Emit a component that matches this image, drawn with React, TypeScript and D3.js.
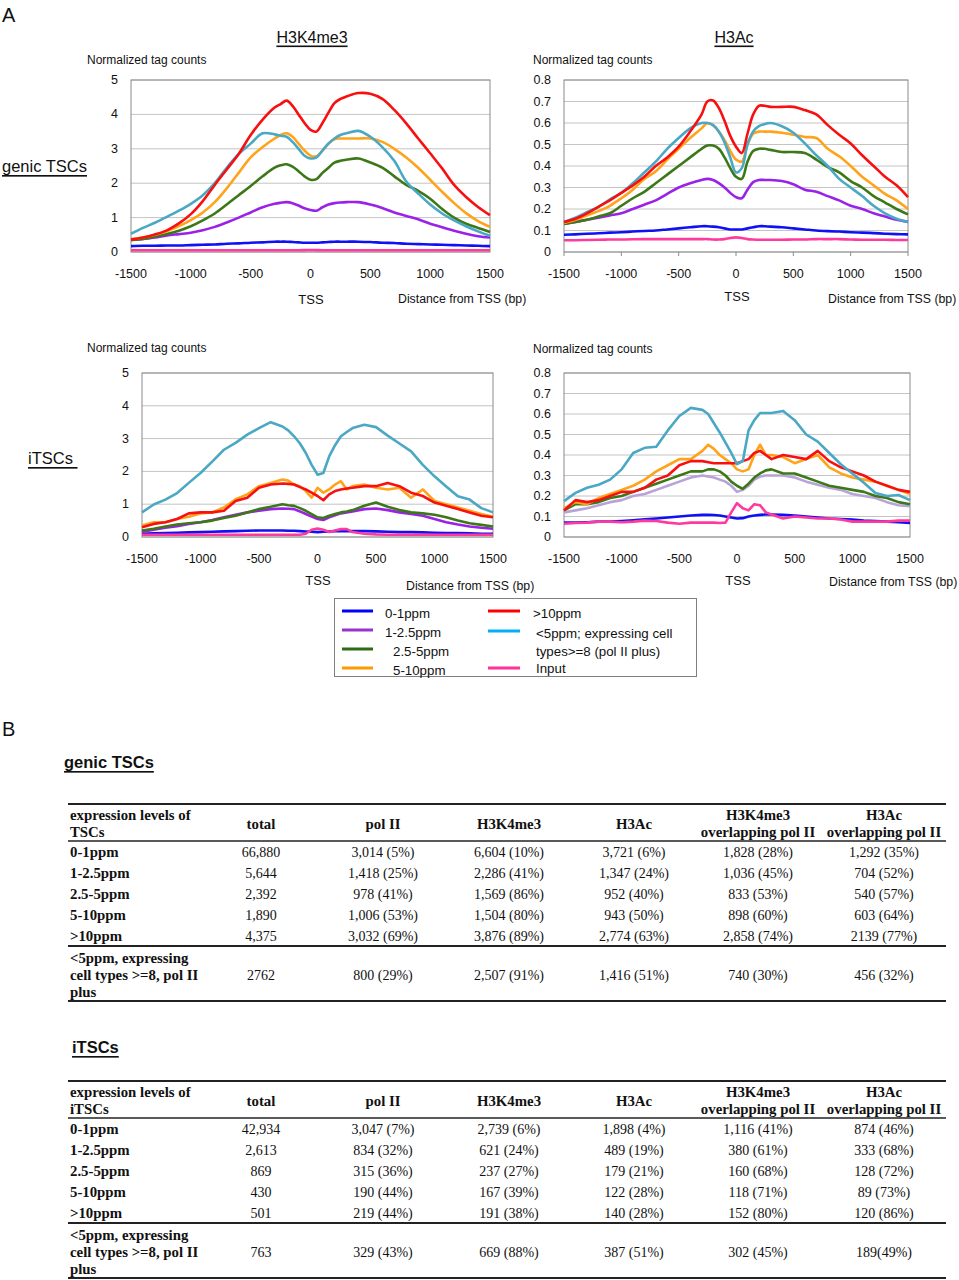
import React from "react";
import * as d3 from "d3";

// ---------- shared axes ----------
const POSITIONS = [-1500,-1400,-1300,-1200,-1100,-1000,-900,-800,-700,-600,-500,-400,-300,-250,-200,-150,-100,-50,0,50,100,150,200,250,300,400,500,600,700,800,900,1000,1100,1200,1300,1400,1500];
const X_TICKS = [-1500,-1000,-500,0,500,1000,1500];
const Y_TICKS_K4 = [0,1,2,3,4,5];
const Y_TICKS_AC = [0,0.1,0.2,0.3,0.4,0.5,0.6,0.7,0.8];

// ---------- genic TSCs, H3K4me3 ----------
const GK4_0_1 = [0.17,0.18,0.18,0.19,0.19,0.2,0.21,0.22,0.24,0.25,0.27,0.28,0.3,0.3,0.3,0.29,0.28,0.27,0.27,0.27,0.28,0.29,0.3,0.3,0.3,0.3,0.29,0.27,0.26,0.24,0.23,0.22,0.21,0.2,0.19,0.18,0.17];
const GK4_1_25 = [0.35,0.38,0.42,0.48,0.52,0.56,0.63,0.73,0.86,1.0,1.15,1.3,1.4,1.43,1.45,1.42,1.35,1.27,1.22,1.2,1.3,1.38,1.42,1.44,1.45,1.45,1.38,1.28,1.15,1.05,0.95,0.82,0.72,0.62,0.53,0.46,0.42];
const GK4_25_5 = [0.35,0.38,0.45,0.52,0.62,0.75,0.92,1.12,1.38,1.65,1.92,2.2,2.45,2.52,2.55,2.48,2.35,2.2,2.1,2.12,2.3,2.45,2.6,2.65,2.68,2.72,2.6,2.45,2.2,1.95,1.78,1.55,1.25,1.0,0.82,0.7,0.58];
const GK4_5_10 = [0.38,0.42,0.5,0.6,0.75,0.93,1.15,1.45,1.85,2.3,2.75,3.05,3.3,3.4,3.45,3.35,3.15,2.95,2.8,2.78,2.95,3.15,3.28,3.3,3.3,3.3,3.3,3.2,3.0,2.75,2.45,2.1,1.75,1.42,1.13,0.9,0.73];
const GK4_GT10 = [0.36,0.42,0.51,0.63,0.83,1.1,1.48,1.95,2.4,2.85,3.4,3.85,4.2,4.3,4.4,4.25,4.0,3.75,3.55,3.5,3.75,4.05,4.33,4.45,4.52,4.62,4.6,4.45,4.13,3.74,3.3,2.87,2.43,1.95,1.6,1.31,1.07];
const GK4_POL2 = [0.53,0.7,0.85,1.02,1.2,1.4,1.65,2.0,2.45,2.85,3.15,3.45,3.42,3.38,3.35,3.2,3.0,2.8,2.72,2.75,2.95,3.15,3.3,3.4,3.45,3.52,3.35,3.05,2.65,2.05,1.7,1.38,1.12,0.92,0.75,0.6,0.47];
const GK4_INPUT = [0.05,0.05,0.05,0.05,0.05,0.05,0.05,0.05,0.05,0.05,0.05,0.05,0.05,0.05,0.05,0.05,0.05,0.055,0.06,0.055,0.05,0.05,0.05,0.05,0.05,0.05,0.05,0.05,0.05,0.05,0.05,0.05,0.05,0.05,0.05,0.05,0.05];

// ---------- genic TSCs, H3Ac ----------
const GAC_0_1 = [0.08,0.082,0.085,0.087,0.09,0.092,0.095,0.098,0.1,0.105,0.11,0.115,0.12,0.12,0.118,0.115,0.11,0.105,0.105,0.105,0.11,0.115,0.12,0.12,0.118,0.115,0.11,0.105,0.1,0.097,0.095,0.092,0.09,0.088,0.085,0.083,0.082];
const GAC_1_25 = [0.13,0.14,0.15,0.16,0.17,0.18,0.2,0.22,0.24,0.27,0.3,0.32,0.335,0.34,0.335,0.32,0.3,0.275,0.255,0.25,0.29,0.325,0.335,0.335,0.335,0.33,0.315,0.29,0.28,0.26,0.24,0.215,0.2,0.18,0.165,0.15,0.14];
const GAC_25_5 = [0.13,0.14,0.15,0.165,0.18,0.215,0.25,0.28,0.32,0.36,0.4,0.44,0.48,0.495,0.495,0.48,0.44,0.39,0.35,0.34,0.42,0.47,0.48,0.48,0.475,0.465,0.465,0.46,0.43,0.395,0.37,0.33,0.3,0.26,0.23,0.2,0.175];
const GAC_5_10 = [0.135,0.15,0.17,0.19,0.215,0.25,0.29,0.34,0.375,0.43,0.48,0.53,0.575,0.6,0.59,0.56,0.52,0.47,0.43,0.42,0.5,0.55,0.56,0.56,0.56,0.555,0.545,0.535,0.53,0.48,0.445,0.4,0.35,0.31,0.27,0.24,0.2];
const GAC_GT10 = [0.14,0.155,0.18,0.21,0.24,0.275,0.31,0.35,0.4,0.44,0.49,0.56,0.64,0.7,0.705,0.67,0.61,0.54,0.49,0.46,0.55,0.64,0.68,0.68,0.675,0.675,0.675,0.66,0.64,0.59,0.545,0.505,0.45,0.4,0.35,0.31,0.255];
const GAC_POL2 = [0.14,0.16,0.185,0.21,0.245,0.275,0.32,0.37,0.42,0.48,0.53,0.575,0.6,0.6,0.59,0.56,0.51,0.44,0.37,0.39,0.5,0.56,0.585,0.595,0.6,0.585,0.555,0.505,0.45,0.4,0.34,0.3,0.26,0.215,0.18,0.155,0.14];
const GAC_INPUT = [0.055,0.055,0.056,0.057,0.058,0.058,0.059,0.06,0.06,0.06,0.06,0.06,0.06,0.06,0.058,0.058,0.06,0.065,0.068,0.065,0.06,0.058,0.057,0.057,0.057,0.057,0.058,0.058,0.06,0.06,0.06,0.058,0.057,0.057,0.057,0.056,0.056];

// ---------- iTSCs, H3K4me3 ----------
const IK4_0_1 = [0.1,0.11,0.12,0.13,0.14,0.15,0.16,0.17,0.18,0.19,0.2,0.2,0.2,0.19,0.19,0.18,0.17,0.16,0.15,0.16,0.17,0.18,0.18,0.18,0.18,0.18,0.17,0.16,0.15,0.15,0.14,0.13,0.12,0.12,0.11,0.1,0.1];
const IK4_1_25 = [0.15,0.22,0.28,0.33,0.4,0.45,0.52,0.6,0.68,0.75,0.8,0.85,0.87,0.86,0.85,0.78,0.7,0.62,0.55,0.52,0.6,0.66,0.72,0.75,0.78,0.85,0.87,0.82,0.75,0.7,0.65,0.55,0.45,0.38,0.32,0.28,0.25];
const IK4_25_5 = [0.2,0.25,0.32,0.38,0.42,0.45,0.5,0.58,0.65,0.75,0.85,0.92,1.0,0.97,0.95,0.88,0.8,0.7,0.6,0.58,0.65,0.7,0.75,0.78,0.82,0.95,1.05,0.92,0.82,0.75,0.72,0.68,0.6,0.5,0.42,0.37,0.32];
const IK4_5_10 = [0.35,0.45,0.45,0.55,0.62,0.72,0.75,0.9,1.15,1.3,1.55,1.65,1.75,1.72,1.6,1.55,1.4,1.2,1.5,1.35,1.45,1.6,1.7,1.45,1.55,1.6,1.5,1.45,1.5,1.2,1.45,1.1,1.0,0.9,0.8,0.7,0.62];
const IK4_GT10 = [0.3,0.4,0.45,0.55,0.72,0.75,0.75,0.8,1.1,1.2,1.5,1.6,1.63,1.62,1.6,1.52,1.45,1.35,1.25,1.12,1.3,1.4,1.45,1.48,1.5,1.55,1.55,1.65,1.55,1.35,1.25,1.05,0.95,0.85,0.75,0.65,0.6];
const IK4_POL2 = [0.75,0.99,1.14,1.34,1.65,1.95,2.3,2.66,2.87,3.12,3.32,3.5,3.37,3.25,3.07,2.85,2.56,2.2,1.9,1.95,2.46,2.8,3.07,3.2,3.32,3.42,3.35,3.09,2.85,2.61,2.2,1.85,1.54,1.24,1.14,0.88,0.75];
const IK4_INPUT = [0.07,0.07,0.07,0.07,0.07,0.07,0.07,0.07,0.07,0.07,0.07,0.07,0.07,0.07,0.07,0.07,0.1,0.22,0.26,0.22,0.15,0.2,0.24,0.24,0.15,0.1,0.08,0.07,0.07,0.07,0.07,0.07,0.07,0.07,0.07,0.07,0.07];

// ---------- iTSCs, H3Ac ----------
const IAC_0_1 = [0.07,0.07,0.072,0.075,0.075,0.078,0.082,0.086,0.09,0.095,0.1,0.105,0.108,0.108,0.107,0.105,0.1,0.095,0.09,0.092,0.1,0.105,0.108,0.11,0.11,0.108,0.105,0.1,0.095,0.09,0.088,0.085,0.08,0.078,0.075,0.072,0.068];
const IAC_1_25 = [0.12,0.13,0.14,0.155,0.17,0.18,0.2,0.21,0.23,0.25,0.27,0.29,0.3,0.295,0.29,0.28,0.27,0.25,0.22,0.23,0.25,0.28,0.295,0.3,0.3,0.3,0.29,0.27,0.255,0.24,0.23,0.21,0.2,0.19,0.17,0.155,0.15];
const IAC_25_5 = [0.13,0.16,0.16,0.17,0.19,0.2,0.22,0.24,0.26,0.28,0.3,0.32,0.32,0.33,0.33,0.32,0.3,0.27,0.25,0.235,0.26,0.29,0.31,0.325,0.33,0.31,0.31,0.29,0.27,0.25,0.24,0.23,0.22,0.2,0.19,0.17,0.16];
const IAC_5_10 = [0.14,0.17,0.16,0.19,0.21,0.23,0.25,0.28,0.32,0.35,0.38,0.38,0.42,0.45,0.43,0.4,0.38,0.36,0.33,0.32,0.33,0.4,0.45,0.4,0.4,0.39,0.36,0.38,0.4,0.34,0.31,0.29,0.28,0.27,0.25,0.23,0.21];
const IAC_GT10 = [0.13,0.18,0.17,0.18,0.2,0.22,0.22,0.24,0.28,0.3,0.35,0.37,0.37,0.365,0.36,0.36,0.36,0.36,0.36,0.37,0.38,0.41,0.42,0.4,0.38,0.4,0.39,0.38,0.42,0.37,0.34,0.32,0.3,0.27,0.25,0.23,0.22];
const IAC_POL2 = [0.175,0.215,0.24,0.255,0.28,0.33,0.41,0.435,0.44,0.52,0.59,0.63,0.62,0.6,0.555,0.51,0.46,0.41,0.355,0.37,0.52,0.57,0.605,0.605,0.605,0.615,0.57,0.5,0.465,0.41,0.355,0.31,0.265,0.215,0.2,0.205,0.18];
const IAC_INPUT = [0.065,0.068,0.07,0.075,0.075,0.072,0.075,0.08,0.078,0.07,0.065,0.07,0.07,0.07,0.07,0.068,0.07,0.12,0.165,0.14,0.13,0.16,0.155,0.12,0.11,0.09,0.1,0.095,0.09,0.09,0.085,0.075,0.075,0.075,0.075,0.08,0.08];

// ---------- legend ----------
const LEGEND_LEFT = ["0-1ppm", "1-2.5ppm", "2.5-5ppm", "5-10ppm"];
const LEGEND_RIGHT = [">10ppm", "<5ppm; expressing cell", "types>=8 (pol II plus)", "Input"];

// ---------- tables ----------
const TABLE_HEADERS = [["total"], ["pol II"], ["H3K4me3"], ["H3Ac"], ["H3K4me3", "overlapping pol II"], ["H3Ac", "overlapping pol II"]];
const ROW_LABELS = ["0-1ppm", "1-2.5ppm", "2.5-5ppm", "5-10ppm", ">10ppm"];
const LAST_ROW_LABEL = ["<5ppm, expressing", "cell types >=8, pol II", "plus"];

const GENIC_TOTAL = ["66,880", "5,644", "2,392", "1,890", "4,375", "2762"];
const GENIC_POL2 = ["3,014 (5%)", "1,418 (25%)", "978 (41%)", "1,006 (53%)", "3,032 (69%)", "800 (29%)"];
const GENIC_H3K4ME3 = ["6,604 (10%)", "2,286 (41%)", "1,569 (86%)", "1,504 (80%)", "3,876 (89%)", "2,507 (91%)"];
const GENIC_H3AC = ["3,721 (6%)", "1,347 (24%)", "952 (40%)", "943 (50%)", "2,774 (63%)", "1,416 (51%)"];
const GENIC_K4_OVL = ["1,828 (28%)", "1,036 (45%)", "833 (53%)", "898 (60%)", "2,858 (74%)", "740 (30%)"];
const GENIC_AC_OVL = ["1,292 (35%)", "704 (52%)", "540 (57%)", "603 (64%)", "2139 (77%)", "456 (32%)"];

const ITSC_TOTAL = ["42,934", "2,613", "869", "430", "501", "763"];
const ITSC_POL2 = ["3,047 (7%)", "834 (32%)", "315 (36%)", "190 (44%)", "219 (44%)", "329 (43%)"];
const ITSC_H3K4ME3 = ["2,739 (6%)", "621 (24%)", "237 (27%)", "167 (39%)", "191 (38%)", "669 (88%)"];
const ITSC_H3AC = ["1,898 (4%)", "489 (19%)", "179 (21%)", "122 (28%)", "140 (28%)", "387 (51%)"];
const ITSC_K4_OVL = ["1,116 (41%)", "380 (61%)", "160 (68%)", "118 (71%)", "152 (80%)", "302 (45%)"];
const ITSC_AC_OVL = ["874 (46%)", "333 (68%)", "128 (72%)", "89 (73%)", "120 (86%)", "189(49%)"];

// ---------- styles ----------
const SANS = "'Liberation Sans', Arial, sans-serif";
const SERIF = "'Liberation Serif', 'Times New Roman', serif";
const C = {
  blue: "#1010f5",
  purple: "#9a22e8",
  lavender: "#b8a3d8",
  green: "#3c7818",
  orange: "#ffa31a",
  red: "#f81010",
  cyan: "#4aa8c4",
  pink: "#ff3a9e",
};
const LEGEND_COLORS_LEFT = ["#0000ff", "#9933cc", "#2f6a14", "#ff9900"];
const LEGEND_COLORS_RIGHT = ["#ff0000", "#00b0f0", null, "#ff3399"];

type PanelCfg = {
  x0: number; x1: number; y0: number; y1: number;
  yMax: number; yTicks: number[]; fmt: (v: number) => string;
  series: { values: number[]; color: string }[];
  curve: d3.CurveFactory;
  normX: number; normY: number;
  tssX: number; tssY: number;
  distX: number; distY: number;
  xTickMarks?: boolean;
};

const fmtInt = (v: number) => String(v);
const fmtDec = (v: number) => (v === 0 ? "0" : v.toFixed(1));

const PANELS: PanelCfg[] = [
  {
    x0: 131, x1: 490, y0: 80, y1: 252, yMax: 5, yTicks: Y_TICKS_K4, fmt: fmtInt,
    series: [
      { values: GK4_0_1, color: C.blue }, { values: GK4_INPUT, color: C.pink },
      { values: GK4_1_25, color: C.purple }, { values: GK4_25_5, color: C.green },
      { values: GK4_5_10, color: C.orange }, { values: GK4_POL2, color: C.cyan },
      { values: GK4_GT10, color: C.red },
    ],
    curve: d3.curveCatmullRom.alpha(0.5),
    normX: 87, normY: 60, tssX: 311, tssY: 299, distX: 398, distY: 299,
  },
  {
    x0: 564, x1: 908, y0: 80, y1: 252, yMax: 0.8, yTicks: Y_TICKS_AC, fmt: fmtDec,
    series: [
      { values: GAC_0_1, color: C.blue }, { values: GAC_INPUT, color: C.pink },
      { values: GAC_1_25, color: C.purple }, { values: GAC_25_5, color: C.green },
      { values: GAC_5_10, color: C.orange }, { values: GAC_POL2, color: C.cyan },
      { values: GAC_GT10, color: C.red },
    ],
    curve: d3.curveCatmullRom.alpha(0.5),
    normX: 533, normY: 60, tssX: 737, tssY: 296, distX: 828, distY: 299,
    xTickMarks: true,
  },
  {
    x0: 142, x1: 493, y0: 373, y1: 537, yMax: 5, yTicks: Y_TICKS_K4, fmt: fmtInt,
    series: [
      { values: IK4_0_1, color: C.blue },
      { values: IK4_1_25, color: C.purple }, { values: IK4_25_5, color: C.green },
      { values: IK4_5_10, color: C.orange }, { values: IK4_GT10, color: C.red },
      { values: IK4_POL2, color: C.cyan }, { values: IK4_INPUT, color: C.pink },
    ],
    curve: d3.curveLinear,
    normX: 87, normY: 348, tssX: 318, tssY: 580, distX: 406, distY: 586,
  },
  {
    x0: 564, x1: 910, y0: 373, y1: 537, yMax: 0.8, yTicks: Y_TICKS_AC, fmt: fmtDec,
    series: [
      { values: IAC_0_1, color: C.blue },
      { values: IAC_1_25, color: C.lavender }, { values: IAC_25_5, color: C.green },
      { values: IAC_5_10, color: C.orange }, { values: IAC_GT10, color: C.red },
      { values: IAC_POL2, color: C.cyan }, { values: IAC_INPUT, color: C.pink },
    ],
    curve: d3.curveLinear,
    normX: 533, normY: 349, tssX: 738, tssY: 580, distX: 829, distY: 582,
  },
];

function Panel({ cfg }: { cfg: PanelCfg }) {
  const x = d3.scaleLinear().domain([-1500, 1500]).range([cfg.x0, cfg.x1]);
  const y = d3.scaleLinear().domain([0, cfg.yMax]).range([cfg.y1, cfg.y0]);
  const line = d3
    .line<number>()
    .x((_, i) => x(POSITIONS[i]))
    .y((d) => y(d))
    .curve(cfg.curve);
  return (
    <g fontFamily={SANS} fill="#111">
      {cfg.yTicks.map((t) => (
        <line key={"g" + t} x1={cfg.x0} x2={cfg.x1} y1={y(t)} y2={y(t)} stroke="#c4c4c4" strokeWidth={1} />
      ))}
      <rect x={cfg.x0} y={cfg.y0} width={cfg.x1 - cfg.x0} height={cfg.y1 - cfg.y0} fill="none" stroke="#8a8a8a" strokeWidth={1} />
      {cfg.xTickMarks &&
        X_TICKS.map((t) => (
          <line key={"tm" + t} x1={x(t)} x2={x(t)} y1={cfg.y1} y2={cfg.y1 + 4} stroke="#8a8a8a" />
        ))}
      {cfg.yTicks.map((t) => (
        <text key={"y" + t} x={cfg.x0 - 13} y={y(t)} textAnchor="end" dominantBaseline="central" fontSize={12.5}>
          {cfg.fmt(t)}
        </text>
      ))}
      {X_TICKS.map((t) => (
        <text key={"x" + t} x={x(t)} y={cfg.y1 + 22} textAnchor="middle" dominantBaseline="central" fontSize={12.5}>
          {t}
        </text>
      ))}
      {cfg.series.map((s, i) => (
        <path key={i} d={line(s.values) || ""} fill="none" stroke={s.color} strokeWidth={2.6} strokeLinejoin="round" />
      ))}
      <text x={cfg.normX} y={cfg.normY} dominantBaseline="central" fontSize={12}>Normalized tag counts</text>
      <text x={cfg.tssX} y={cfg.tssY} textAnchor="middle" dominantBaseline="central" fontSize={13}>TSS</text>
      <text x={cfg.distX} y={cfg.distY} dominantBaseline="central" fontSize={12.3}>Distance from TSS (bp)</text>
    </g>
  );
}

function Legend() {
  const rowsY = [611, 630, 649, 668];
  const textY = [613, 632, 651, 670];
  const rightTextY = [613, 633, 651, 668];
  return (
    <g fontFamily={SANS} fontSize={13.3} fill="#111">
      <rect x={334.5} y={598.5} width={362} height={78} fill="none" stroke="#808080" strokeWidth={1} />
      {LEGEND_LEFT.map((label, i) => (
        <g key={"l" + i}>
          <line x1={342} x2={373} y1={rowsY[i]} y2={rowsY[i]} stroke={LEGEND_COLORS_LEFT[i]} strokeWidth={3} />
          <text x={i < 2 ? 385 : 393} y={textY[i]} dominantBaseline="central">{label}</text>
        </g>
      ))}
      {LEGEND_RIGHT.map((label, i) => (
        <g key={"r" + i}>
          {LEGEND_COLORS_RIGHT[i] && (
            <line x1={488} x2={520} y1={i === 1 ? 631 : rowsY[i]} y2={i === 1 ? 631 : rowsY[i]} stroke={LEGEND_COLORS_RIGHT[i] as string} strokeWidth={3} />
          )}
          <text x={i === 0 ? 533 : 536} y={rightTextY[i]} dominantBaseline="central">{label}</text>
        </g>
      ))}
    </g>
  );
}

const COL_X = [261, 383, 509, 634, 758, 884];

function DataTable({ top, firstHeader, cols }: { top: number; firstHeader: string[]; cols: string[][] }) {
  const L = 68, R = 946;
  const rowY = [48, 69, 90, 111, 132].map((d) => top + d);
  const lastY = [154, 171, 188].map((d) => top + d);
  return (
    <g fontFamily={SERIF} fontSize={14} fill="#111">
      <line x1={L} x2={R} y1={top} y2={top} stroke="#222" strokeWidth={2} />
      <g fontWeight="bold" fontSize={14.8}>
        <text x={70} y={top + 11} dominantBaseline="central">{firstHeader[0]}</text>
        <text x={70} y={top + 28} dominantBaseline="central">{firstHeader[1]}</text>
        {TABLE_HEADERS.map((h, i) =>
          h.length === 1 ? (
            <text key={"h" + i} x={COL_X[i]} y={top + 20} textAnchor="middle" dominantBaseline="central">{h[0]}</text>
          ) : (
            <g key={"h" + i}>
              <text x={COL_X[i]} y={top + 11} textAnchor="middle" dominantBaseline="central">{h[0]}</text>
              <text x={COL_X[i]} y={top + 28} textAnchor="middle" dominantBaseline="central">{h[1]}</text>
            </g>
          )
        )}
      </g>
      <line x1={L} x2={R} y1={top + 37} y2={top + 37} stroke="#222" strokeWidth={1.5} />
      {ROW_LABELS.map((lab, r) => (
        <g key={"r" + r}>
          <text x={70} y={rowY[r]} dominantBaseline="central" fontWeight="bold" fontSize={14.8}>{lab}</text>
          {cols.map((col, c) => (
            <text key={c} x={COL_X[c]} y={rowY[r]} textAnchor="middle" dominantBaseline="central">{col[r]}</text>
          ))}
        </g>
      ))}
      <line x1={L} x2={R} y1={top + 142} y2={top + 142} stroke="#222" strokeWidth={2.2} />
      {LAST_ROW_LABEL.map((lab, i) => (
        <text key={"ll" + i} x={70} y={lastY[i]} dominantBaseline="central" fontWeight="bold" fontSize={14.8}>{lab}</text>
      ))}
      {cols.map((col, c) => (
        <text key={"lc" + c} x={COL_X[c]} y={lastY[1]} textAnchor="middle" dominantBaseline="central">{col[5]}</text>
      ))}
      <line x1={L} x2={R} y1={top + 197} y2={top + 197} stroke="#222" strokeWidth={2} />
    </g>
  );
}

export default function App() {
  return (
    <svg width={959} height={1280} viewBox="0 0 959 1280" style={{ position: "absolute", left: 0, top: 0, background: "#fff" }}>
      <rect x={0} y={0} width={959} height={1280} fill="#fff" />
      <g fontFamily={SANS} fill="#111">
        <text x={2} y={15} fontSize={20} dominantBaseline="central">A</text>
        <text x={312} y={37} fontSize={16} textAnchor="middle" dominantBaseline="central" textDecoration="underline">H3K4me3</text>
        <text x={734} y={37} fontSize={16} textAnchor="middle" dominantBaseline="central" textDecoration="underline">H3Ac</text>
        <text x={2} y={166} fontSize={16.5} dominantBaseline="central" textDecoration="underline">genic TSCs</text>
        <text x={28} y={458} fontSize={16.5} dominantBaseline="central" textDecoration="underline">{"iTSCs\u00a0"}</text>
        <text x={2} y={729} fontSize={20} dominantBaseline="central">B</text>
        <text x={64} y={762} fontSize={16.5} fontWeight="bold" dominantBaseline="central" textDecoration="underline">genic TSCs</text>
        <text x={72} y={1047} fontSize={16.5} fontWeight="bold" dominantBaseline="central" textDecoration="underline">iTSCs</text>
      </g>
      {PANELS.map((p, i) => (
        <Panel key={i} cfg={p} />
      ))}
      <Legend />
      <DataTable top={804} firstHeader={["expression levels of", "TSCs"]}
        cols={[GENIC_TOTAL, GENIC_POL2, GENIC_H3K4ME3, GENIC_H3AC, GENIC_K4_OVL, GENIC_AC_OVL]} />
      <DataTable top={1081} firstHeader={["expression levels of", "iTSCs"]}
        cols={[ITSC_TOTAL, ITSC_POL2, ITSC_H3K4ME3, ITSC_H3AC, ITSC_K4_OVL, ITSC_AC_OVL]} />
    </svg>
  );
}
